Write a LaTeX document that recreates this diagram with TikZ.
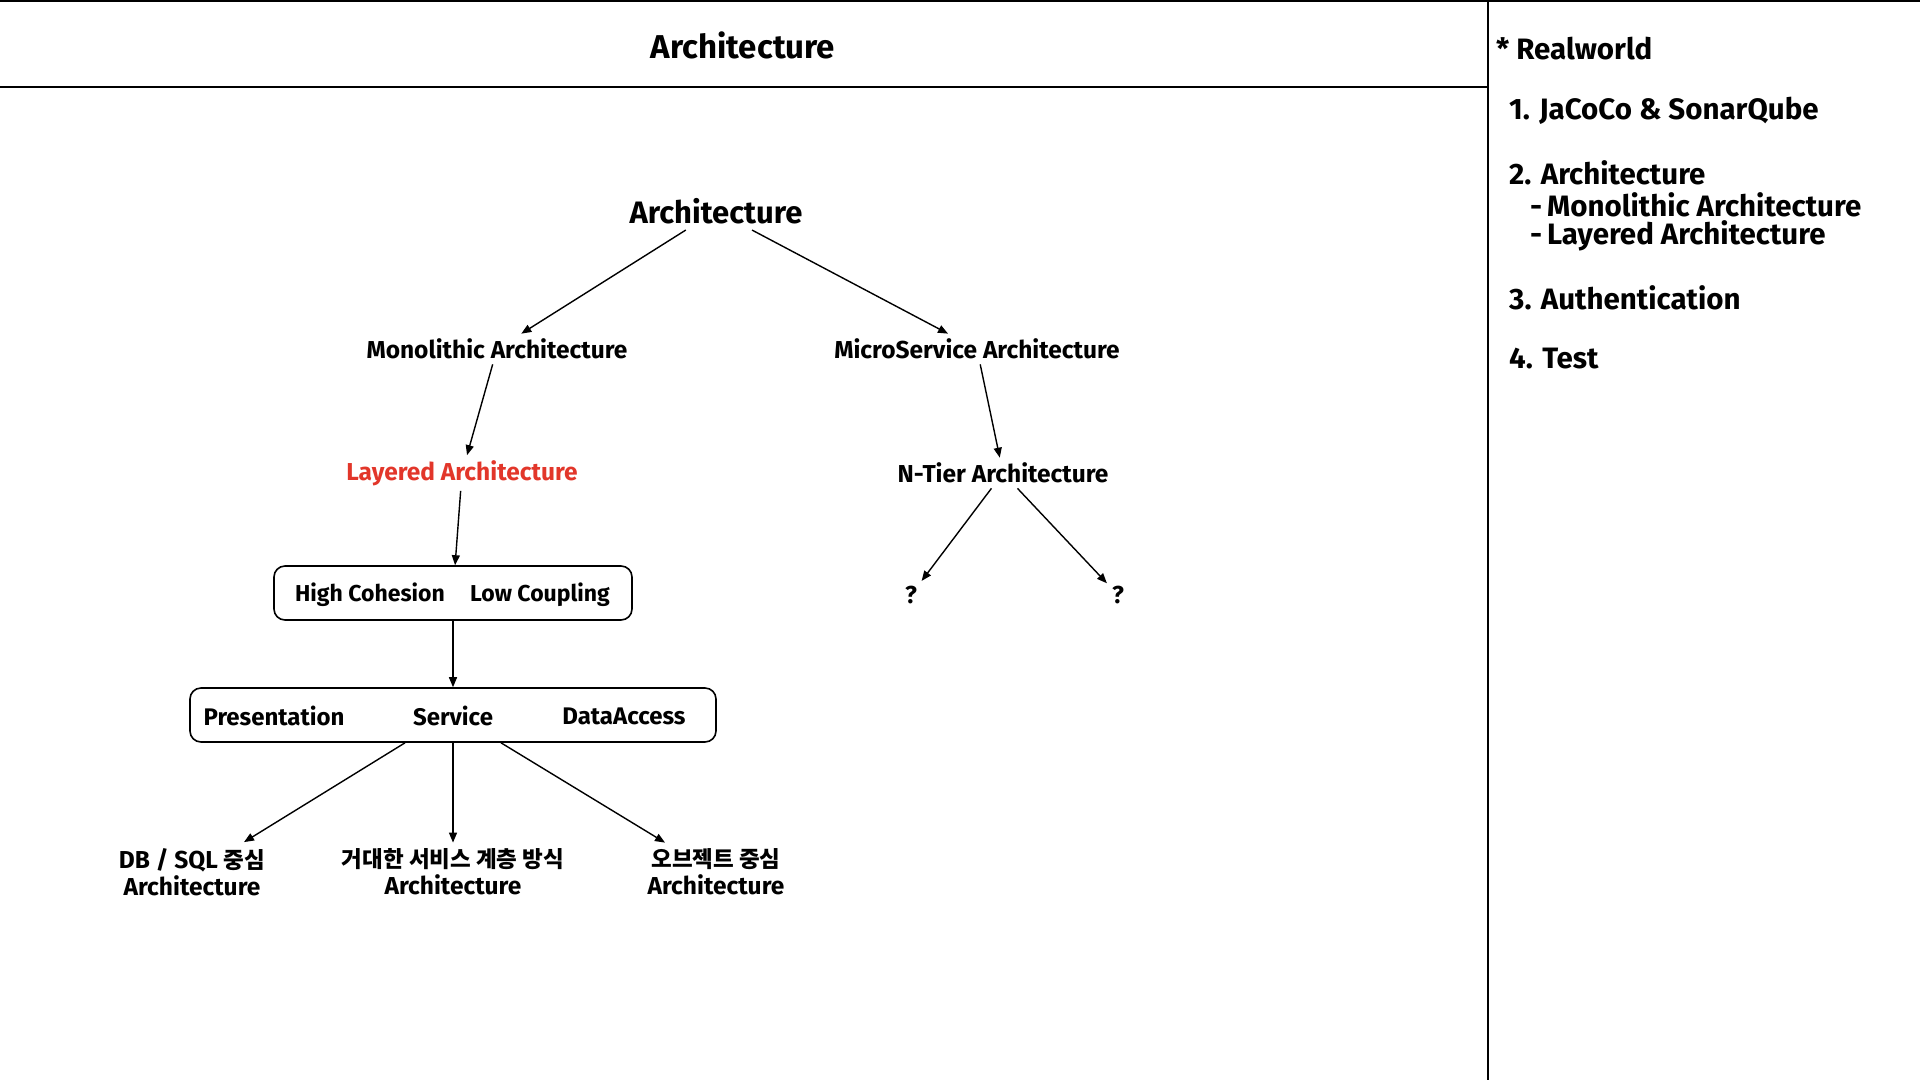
\documentclass[tikz,border=0pt]{standalone}
\usepackage{fontspec}
\setmainfont{Fira Sans}
\newfontfamily\kr{Noto Sans CJK KR}
\usetikzlibrary{arrows.meta,calc}
\definecolor{layred}{RGB}{226,54,42}
\newcommand{\krtxt}[1]{{\kr\fontsize{22.5}{27}\selectfont #1}}
\tikzset{
  lbl/.style={font=\bfseries\fontsize{24.5}{27}\selectfont, inner sep=5pt},
  toplbl/.style={font=\bfseries\fontsize{31}{36}\selectfont, inner sep=6pt},
  boxtxt/.style={font=\bfseries\fontsize{24}{28}\selectfont, inner sep=0pt},
  side/.style={font=\bfseries\fontsize{29.5}{34}\selectfont, anchor=west, inner sep=0pt},
  arr/.style={-{Triangle[length=10pt,width=8pt]}, line width=1.4pt},
  roundbox/.style={draw, rounded corners=11pt, line width=1.6pt, inner sep=0pt},
  frame/.style={line width=1.8pt}
}
\begin{document}
\begin{tikzpicture}[x=1pt,y=-1pt]
\useasboundingbox (0,0) rectangle (1920,1080);
% frame
\coordinate (tl) at (0,1);
\coordinate (tr) at (1920,1);
\coordinate (hl) at (0,87);
\coordinate (hr) at (1488,87);
\coordinate (vt) at (1488,0);
\coordinate (vb) at (1488,1080);
\draw[frame] (tl) -- (tr);
\draw[frame] (hl) -- (hr);
\draw[frame] (vt) -- (vb);
% title
\node[toplbl, font=\bfseries\fontsize{33}{38}\selectfont] (title) at (743,45) {Architecture};
% tree
\node[toplbl] (root) at (716,211) {Architecture};
\node[lbl] (mono) at (497,349) {Monolithic Architecture};
\node[lbl] (micro) at (977,349) {MicroService Architecture};
\node[lbl, text=layred] (layered) at (462,473) {Layered Architecture};
\node[lbl] (ntier) at (1003,473) {N-Tier Architecture};
\node[lbl] (q1) at (911,595) {?};
\node[lbl] (q2) at (1118,595) {?};
% boxes
\node[roundbox, minimum width=358pt, minimum height=54pt] (hcbox) at (453,593) {};
\node[boxtxt, font=\bfseries\fontsize{23}{27}\selectfont] (hc) at (370,595) {High Cohesion};
\node[boxtxt, font=\bfseries\fontsize{23}{27}\selectfont] (lc) at (540,595) {Low Coupling};
\node[roundbox, minimum width=526pt, minimum height=54pt] (psd) at (453,715) {};
\node[boxtxt] (pres) at (274,716) {Presentation};
\node[boxtxt] (serv) at (453,716) {Service};
\node[boxtxt] (dacc) at (624,716) {DataAccess};
% bottom labels
\node[lbl, align=center, inner sep=2pt] (dbsql) at (192,872) {DB / SQL \krtxt{중심}\\Architecture};
\node[lbl, align=center, inner sep=2pt] (big) at (453,872) {\krtxt{거대한 서비스 계층 방식}\\Architecture};
\node[lbl, align=center, inner sep=2pt] (obj) at (716,872) {\krtxt{오브젝트 중심}\\Architecture};
% arrows
\draw[arr] (root) -- (mono);
\draw[arr] (root) -- (micro);
\draw[arr] (mono) -- (layered);
\draw[arr] (micro) -- (ntier);
\draw[arr] (ntier) -- (q1);
\draw[arr] (ntier) -- (q2);
\draw[arr] (layered) -- (hcbox);
\draw[arr] (hcbox) -- (psd);
\draw[arr] ($(psd.south)+(-48,0)$) -- ($(dbsql.north)+(52,-4)$);
\draw[arr] (psd.south) -- ($(big.north)+(0,-4)$);
\draw[arr] ($(psd.south)+(48,0)$) -- ($(obj.north)+(-51,-4)$);
% side panel
\node[side] (s0) at (1496,49) {* Realworld};
\node[side] (s1) at (1509,111) {1. JaCoCo \& SonarQube};
\node[side] (s2) at (1509,173) {2. Architecture};
\node[side] (s2a) at (1530,205) {-\,Monolithic Architecture};
\node[side] (s2b) at (1530,236) {-\,Layered Architecture};
\node[side] (s3) at (1509,298) {3. Authentication};
\node[side] (s4) at (1509,359) {4. Test};
\end{tikzpicture}
\end{document}
